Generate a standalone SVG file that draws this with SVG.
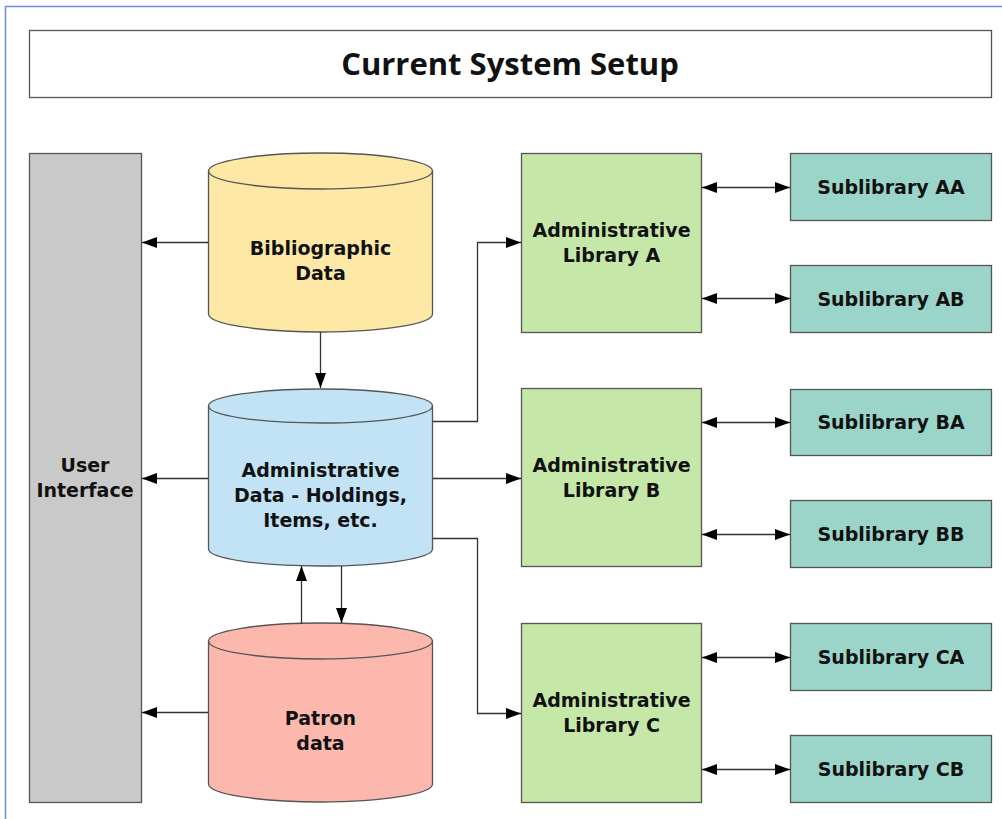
<svg xmlns="http://www.w3.org/2000/svg" width="1002" height="819" viewBox="0 0 1002 819">
<style>
.t{font-family:"DejaVu Sans","Open Sans",sans-serif;font-weight:700;font-size:19px;fill:#111;text-anchor:middle}
.title{font-family:"Open Sans","Noto Sans",sans-serif;font-weight:700;font-size:31px;fill:#111;text-anchor:middle}
.box{stroke:#555;stroke-width:1.3}
.c{fill:none;stroke:#333;stroke-width:1.3}
</style>
<defs>
<marker id="ah" viewBox="0 0 15 11" refX="15" refY="5.5" markerWidth="15" markerHeight="11" markerUnits="userSpaceOnUse" orient="auto-start-reverse">
<path d="M0,0 L15,5.5 L0,11 z" fill="#000"/>
</marker>
</defs>
<rect width="1002" height="819" fill="#fff"/>
<path d="M5.5,819 V6.5 H1002" fill="none" stroke="#6b8fd6" stroke-width="1.5"/>
<g id="title">
<rect class="box" x="29.5" y="30.5" width="962" height="67" fill="#fff"/>
<text class="title" x="510" y="75">Current System Setup</text>
</g>
<g id="user-interface">
<rect class="box" x="29.5" y="153.5" width="112" height="649" fill="#c9c9c9"/>
<text class="t" x="85" y="472">User</text>
<text class="t" x="85" y="497">Interface</text>
</g>
<g id="bibliographic">
<path class="box" d="M208.5,171 V314 A112,18 0 0 0 432.5,314 V171 A112,18 0 0 0 208.5,171 Z" fill="#fde8a6"/>
<path class="box" d="M208.5,171 A112,18 0 0 0 432.5,171" fill="none"/>
<text class="t" x="320.5" y="255">Bibliographic</text>
<text class="t" x="320.5" y="280">Data</text>
</g>
<g id="administrative-data">
<path class="box" d="M208.5,406 V549 A112,17 0 0 0 432.5,549 V406 A112,17 0 0 0 208.5,406 Z" fill="#c2e3f5"/>
<path class="box" d="M208.5,406 A112,17 0 0 0 432.5,406" fill="none"/>
<text class="t" x="320.5" y="477">Administrative</text>
<text class="t" x="320.5" y="502">Data - Holdings,</text>
<text class="t" x="320.5" y="527">Items, etc.</text>
</g>
<g id="patron">
<path class="box" d="M208.5,641 V784 A112,18 0 0 0 432.5,784 V641 A112,18 0 0 0 208.5,641 Z" fill="#fdb8ae"/>
<path class="box" d="M208.5,641 A112,18 0 0 0 432.5,641" fill="none"/>
<text class="t" x="320.5" y="725">Patron</text>
<text class="t" x="320.5" y="750">data</text>
</g>
<g id="admin-lib-a">
<rect class="box" x="521.5" y="153.5" width="180" height="179" fill="#c5e7a8"/>
<text class="t" x="611.5" y="237">Administrative</text>
<text class="t" x="611.5" y="262">Library A</text>
</g>
<g id="admin-lib-b">
<rect class="box" x="521.5" y="388.5" width="180" height="178" fill="#c5e7a8"/>
<text class="t" x="611.5" y="472">Administrative</text>
<text class="t" x="611.5" y="497">Library B</text>
</g>
<g id="admin-lib-c">
<rect class="box" x="521.5" y="623.5" width="180" height="179" fill="#c5e7a8"/>
<text class="t" x="611.5" y="707">Administrative</text>
<text class="t" x="611.5" y="732">Library C</text>
</g>
<g id="sub-aa"><rect class="box" x="790.5" y="153.5" width="201" height="67" fill="#9bd5c9"/><text class="t" x="891" y="194">Sublibrary AA</text></g>
<g id="sub-ab"><rect class="box" x="790.5" y="265.5" width="201" height="67" fill="#9bd5c9"/><text class="t" x="891" y="306">Sublibrary AB</text></g>
<g id="sub-ba"><rect class="box" x="790.5" y="389.5" width="201" height="66" fill="#9bd5c9"/><text class="t" x="891" y="429">Sublibrary BA</text></g>
<g id="sub-bb"><rect class="box" x="790.5" y="500.5" width="201" height="67" fill="#9bd5c9"/><text class="t" x="891" y="541">Sublibrary BB</text></g>
<g id="sub-ca"><rect class="box" x="790.5" y="623.5" width="201" height="67" fill="#9bd5c9"/><text class="t" x="891" y="664">Sublibrary CA</text></g>
<g id="sub-cb"><rect class="box" x="790.5" y="735.5" width="201" height="67" fill="#9bd5c9"/><text class="t" x="891" y="776">Sublibrary CB</text></g>
<g id="connectors">
<path class="c" d="M208,242.5 H142" marker-end="url(#ah)"/>
<path class="c" d="M208,478.5 H142" marker-end="url(#ah)"/>
<path class="c" d="M208,712.5 H142" marker-end="url(#ah)"/>
<path class="c" d="M320.5,332 V388" marker-end="url(#ah)"/>
<path class="c" d="M433,478.5 H521" marker-end="url(#ah)"/>
<path class="c" d="M433,421.5 H477.5 V242.5 H521" marker-end="url(#ah)"/>
<path class="c" d="M433,538.5 H477.5 V713.5 H521" marker-end="url(#ah)"/>
<path class="c" d="M301.5,624 V566" marker-end="url(#ah)"/>
<path class="c" d="M341.5,566 V623" marker-end="url(#ah)"/>
<path class="c" d="M702,187.5 H790" marker-start="url(#ah)" marker-end="url(#ah)"/>
<path class="c" d="M702,298.5 H790" marker-start="url(#ah)" marker-end="url(#ah)"/>
<path class="c" d="M702,422.5 H790" marker-start="url(#ah)" marker-end="url(#ah)"/>
<path class="c" d="M702,534.5 H790" marker-start="url(#ah)" marker-end="url(#ah)"/>
<path class="c" d="M702,657.5 H790" marker-start="url(#ah)" marker-end="url(#ah)"/>
<path class="c" d="M702,769.5 H790" marker-start="url(#ah)" marker-end="url(#ah)"/>
</g>
</svg>
